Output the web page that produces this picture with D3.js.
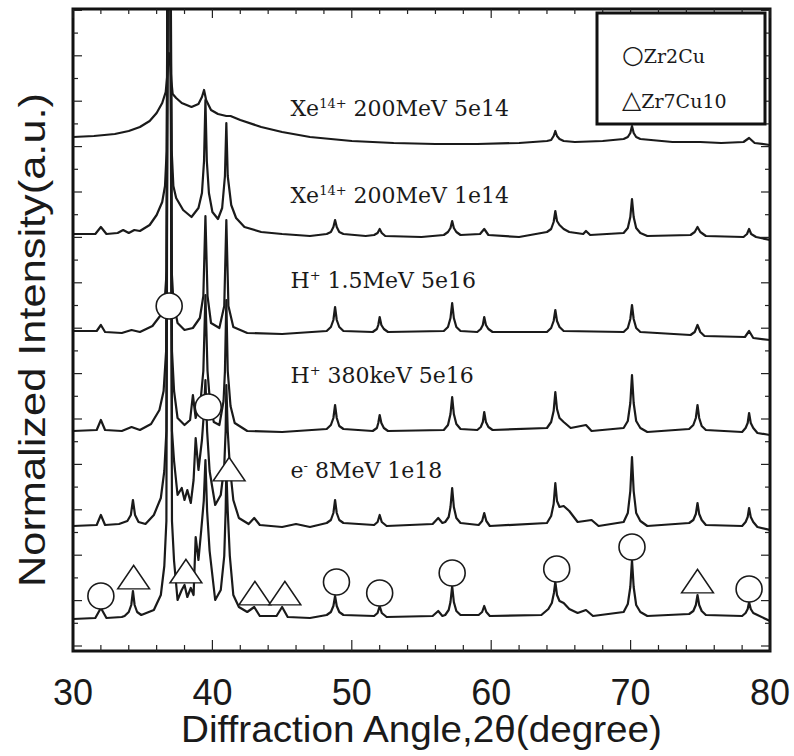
<!DOCTYPE html>
<html><head><meta charset="utf-8">
<script src="https://cdn.jsdelivr.net/npm/d3@7"></script>
<style>body{margin:0;background:#fff}</style>
</head><body>
<svg id="c" width="794" height="756"></svg>
<script>
// ---------- data (2θ in degrees, normalized intensity in a.u., traces stacked) ----------
const xTickLabels = [30, 40, 50, 60, 70, 80];

const xe5e14 = [[30,51.4],[31.5,51.5],[33,51.7],[34,52.0],[34.8,52.4],[35.5,53.0],[36,53.8],[36.4,54.8],[36.65,55.9],[36.8,58.1],[36.88,59.8],[36.95,59.4],[37.05,57.1],[37.15,55.7],[37.4,55.3],[37.8,54.8],[38.5,54.4],[39,54.7],[39.25,55.4],[39.4,56.1],[39.55,55.1],[39.9,54.1],[40.4,53.7],[41,53.5],[41.3,53.5],[42,53.1],[43.5,52.4],[45,51.9],[47,51.4],[50,51.0],[53,50.8],[56,50.7],[59,50.7],[62,50.8],[64,51.0],[64.3,51.1],[64.48,51.5],[64.6,52.0],[64.72,51.5],[64.9,51.2],[65.2,51.0],[66,50.9],[68,51.0],[69.5,51.2],[69.8,51.4],[69.98,51.8],[70.1,52.5],[70.22,51.8],[70.4,51.4],[70.7,51.2],[73,50.9],[75,50.9],[76.5,50.8],[78.1,50.9],[78.5,51.3],[78.9,50.8],[80,50.6]];

const xe1e14 = [[30,41.7],[31.6,41.7],[32,42.4],[32.4,41.7],[33.2,41.8],[33.6,42.1],[34,41.8],[34.4,42.1],[34.8,42.0],[35.5,42.6],[36,43.6],[36.4,44.9],[36.6,46.5],[36.72,50],[36.8,75],[36.98,75],[37.08,50],[37.2,46.5],[37.4,45.3],[37.9,44.1],[38.5,43.4],[39,44.3],[39.25,45.8],[39.4,49],[39.5,55.1],[39.6,49],[39.75,45.8],[40,43.9],[40.4,43.2],[40.7,44.3],[40.9,47.5],[41,52.8],[41.1,47.5],[41.35,44.6],[41.7,43.3],[42.3,42.4],[43.5,41.9],[45,41.7],[47,41.5],[48.2,41.7],[48.5,41.9],[48.68,42.4],[48.8,43.1],[48.92,42.4],[49.1,41.9],[49.4,41.7],[51,41.5],[51.6,41.6],[51.85,41.8],[52,42.2],[52.15,41.8],[52.4,41.5],[55,41.4],[56.6,41.6],[56.9,41.9],[57.08,42.3],[57.2,43.0],[57.32,42.3],[57.5,41.9],[57.8,41.6],[59.2,41.7],[59.5,42.2],[59.8,41.6],[62,41.4],[64,41.9],[64.3,42.2],[64.48,42.9],[64.6,44.0],[64.72,43.0],[64.9,42.6],[65.2,42.2],[65.6,41.9],[66.6,41.7],[66.8,42.0],[67.1,41.6],[69.5,41.8],[69.8,42.3],[69.98,43.4],[70.1,45.2],[70.22,43.4],[70.4,42.3],[70.7,41.8],[71.2,41.5],[74.3,41.6],[74.6,41.9],[74.8,42.4],[75,41.9],[75.4,41.5],[78.1,41.4],[78.35,41.7],[78.5,42.2],[78.65,41.7],[79,41.4],[80,41.1]];

const h15MeV = [[30,32.0],[31.7,32.0],[32,32.6],[32.3,31.9],[33.5,31.8],[34.2,32.1],[34.8,31.9],[35.7,32.5],[36.3,33.6],[36.6,35.5],[36.72,38],[36.8,75],[36.98,75],[37.08,38],[37.2,35],[37.5,32.8],[38,32.1],[38.6,32.3],[39.1,33.3],[39.35,35.5],[39.5,43.5],[39.65,35.5],[39.9,32.8],[40.5,32.3],[40.85,34.5],[41,43.1],[41.15,34.5],[41.5,32.4],[42.5,31.8],[45,31.7],[48.2,32.0],[48.5,32.4],[48.68,33.1],[48.8,34.4],[48.92,33.1],[49.1,32.4],[49.4,32.0],[51.5,31.9],[51.8,32.2],[51.9,32.6],[52,33.4],[52.12,32.6],[52.3,32.2],[52.6,31.9],[56.6,32.0],[56.9,32.4],[57.08,33.3],[57.2,34.8],[57.32,33.3],[57.5,32.4],[57.8,32.0],[59,31.9],[59.25,32.2],[59.4,32.6],[59.5,33.4],[59.62,32.6],[59.8,32.2],[60.1,31.9],[64,31.9],[64.3,32.3],[64.48,33.0],[64.6,34.1],[64.72,33.0],[64.9,32.4],[65.2,32.0],[69.5,31.9],[69.8,32.3],[69.98,33.2],[70.1,34.6],[70.22,33.2],[70.4,32.3],[70.7,31.9],[74.3,31.6],[74.6,31.9],[74.8,32.6],[75,31.9],[75.3,31.5],[78.2,31.4],[78.5,32.0],[78.8,31.3],[80,31.1]];

const h380keV = [[30,22.0],[31.7,22.1],[32,23.1],[32.3,22.1],[33.5,22.0],[34.2,22.4],[34.8,22.1],[35.6,22.7],[36.2,24.1],[36.5,26],[36.68,30],[36.8,75],[36.98,75],[37.1,30],[37.25,26],[37.5,23.3],[38,22.6],[38.4,23.1],[38.6,25.6],[38.8,23.3],[39.15,25],[39.35,28],[39.5,35.6],[39.65,28],[39.85,24.5],[40.1,22.9],[40.5,22.6],[40.8,25],[40.9,28],[41,35.1],[41.1,28],[41.3,24.5],[41.6,22.8],[42.5,22.0],[45,21.9],[48.2,22.2],[48.5,22.6],[48.68,23.3],[48.8,24.6],[48.92,23.3],[49.1,22.5],[49.4,22.2],[51.5,22.0],[51.8,22.3],[51.9,22.8],[52,23.6],[52.12,22.8],[52.3,22.3],[52.6,22.0],[56.6,22.1],[56.9,22.6],[57.08,23.7],[57.2,25.4],[57.32,23.7],[57.5,22.7],[57.8,22.2],[59,22.1],[59.25,22.4],[59.4,22.9],[59.5,23.9],[59.62,22.9],[59.8,22.4],[60.1,22.1],[64,22.3],[64.3,22.9],[64.48,24.0],[64.6,25.9],[64.72,24.2],[64.9,23.3],[65.2,22.9],[65.7,22.3],[66.8,22.6],[67.2,22.0],[69.5,22.3],[69.8,23.0],[69.98,24.8],[70.1,27.6],[70.22,24.8],[70.4,23.0],[70.7,22.3],[71.2,21.9],[74.2,22.2],[74.5,22.6],[74.68,23.3],[74.8,24.6],[74.92,23.3],[75.1,22.5],[75.4,22.1],[78,21.9],[78.25,22.3],[78.4,22.8],[78.5,23.8],[78.62,22.8],[78.8,22.3],[79.1,21.8],[80,21.6]];

const e8MeV = [[30,12.5],[31.7,12.6],[32,13.6],[32.3,12.6],[33.3,12.7],[33.9,13.0],[34.15,13.6],[34.3,15.1],[34.45,13.6],[34.7,12.9],[35.2,12.7],[35.8,13.6],[36.3,15.3],[36.55,18],[36.7,22],[36.8,75],[36.98,75],[37.1,22],[37.25,19],[37.5,15.6],[37.8,16.3],[38,15.1],[38.2,16.1],[38.45,14.8],[38.65,17.1],[38.8,21.3],[39,18.1],[39.25,21.1],[39.4,24],[39.5,27.1],[39.62,22],[39.8,18],[40.2,14.6],[40.6,15.6],[40.85,18.5],[40.95,22],[41,26.6],[41.1,22],[41.25,18.5],[41.5,15.1],[41.9,13.3],[42.6,12.7],[43,13.3],[43.4,12.6],[45,12.4],[46,12.7],[47,12.4],[48.2,12.8],[48.5,13.1],[48.68,13.8],[48.8,15.1],[48.92,13.8],[49.1,13.1],[49.4,12.8],[51.6,12.6],[51.85,12.9],[52,13.6],[52.15,12.9],[52.5,12.5],[55.8,12.7],[56.2,13.3],[56.5,12.8],[56.7,12.9],[56.95,13.4],[57.08,14.4],[57.2,16.3],[57.32,14.4],[57.5,13.3],[57.8,12.8],[59.1,12.6],[59.35,13.0],[59.5,13.8],[59.65,13.0],[59.9,12.5],[64,12.8],[64.3,13.5],[64.48,14.7],[64.6,16.8],[64.72,15.0],[64.9,14.4],[65.2,14.5],[65.6,14.0],[66.2,12.9],[67.2,13.1],[67.7,12.5],[69.5,12.9],[69.8,13.8],[69.98,16.0],[70.1,19.4],[70.22,16.0],[70.4,13.8],[70.7,13.0],[71.2,12.5],[74.2,12.8],[74.5,13.1],[74.68,13.7],[74.8,14.8],[74.92,13.7],[75.1,13.1],[75.4,12.6],[78,12.5],[78.25,12.9],[78.4,13.4],[78.5,14.3],[78.62,13.4],[78.8,12.9],[79.1,12.4],[80,12.1]];

const unirradiated = [[30,3.2],[31.6,3.3],[32,4.3],[32.4,3.3],[33.5,3.4],[33.7,3.5],[34.0,3.9],[34.18,4.6],[34.3,6.0],[34.42,4.6],[34.6,3.9],[34.9,3.6],[35.8,4.1],[36.3,5.6],[36.55,8.5],[36.7,13],[36.8,75],[36.98,75],[37.1,13],[37.25,9],[37.5,5.1],[37.8,6.1],[38,6.6],[38.2,5.4],[38.45,6.3],[38.65,5.6],[38.8,11.4],[39,9.1],[39.2,12.1],[39.38,15],[39.5,19.1],[39.62,14],[39.8,10],[40.2,5.1],[40.6,6.1],[40.85,9.5],[40.95,14],[41,18.1],[41.1,14],[41.25,9.5],[41.5,5.6],[41.9,4.4],[42.5,3.9],[43,4.4],[43.4,3.5],[44.6,3.5],[45,4.4],[45.4,3.4],[47,3.3],[48.2,3.6],[48.5,3.9],[48.68,4.5],[48.8,5.5],[48.92,4.5],[49.1,3.9],[49.4,3.6],[51.6,3.5],[51.85,3.8],[52,4.5],[52.15,3.8],[52.5,3.4],[55.8,3.5],[56.2,4.0],[56.5,3.5],[56.7,3.6],[56.95,4.1],[57.08,4.9],[57.2,6.5],[57.32,4.9],[57.5,4.0],[57.8,3.6],[59.1,3.6],[59.35,3.9],[59.5,4.5],[59.65,3.9],[59.9,3.5],[63.6,3.6],[64.1,4.2],[64.35,4.8],[64.5,5.8],[64.6,6.9],[64.72,5.6],[64.9,5.0],[65.2,4.8],[65.6,4.2],[66.2,3.8],[66.8,4.1],[67.3,3.5],[69.5,3.9],[69.8,4.7],[69.98,6.4],[70.1,9.1],[70.22,6.4],[70.4,4.6],[70.7,3.9],[71.2,3.5],[74.2,3.7],[74.5,4.0],[74.68,4.6],[74.8,5.6],[74.92,4.6],[75.1,4.0],[75.4,3.6],[78,3.5],[78.25,3.8],[78.4,4.2],[78.5,4.9],[78.62,4.2],[78.8,3.8],[79.1,3.6],[80,3.0]];

const seriesList = [xe5e14, xe1e14, h15MeV, h380keV, e8MeV, unirradiated];

const labelMain = ["Xe", "Xe", "H", "H", "e"];
const labelSup  = ["14+", "14+", "+", "+", "-"];
const labelRest = [" 200MeV 5e14", " 200MeV 1e14", " 1.5MeV 5e16", " 380keV 5e16", " 8MeV 1e18"];
const labelLevel = [53.5, 44.8, 36.3, 26.8, 17.3];

const zr2cuMarks   = [[32.0,5.5],[36.9,34.5],[39.7,24.4],[48.9,6.9],[52.0,5.8],[57.2,7.8],[64.7,8.2],[70.1,10.4],[78.5,6.2]];
const zr7cu10Marks = [[34.35,7.3],[38.1,7.9],[41.2,18.1],[43.05,5.7],[45.2,5.7],[74.8,6.9]];

const legendSymbols = ["\u25CB", "\u25B3"];
const legendNames = ["Zr2Cu", "Zr7Cu10"];

// ---------- drawing ----------
const svg = d3.select("#c");
const L = 73, R = 770, T = 9, B = 651;
const x = d3.scaleLinear().domain([30, 80]).range([L, R]);
const y = d3.scaleLinear().domain([0, 64.2]).range([B, T]);

svg.append("rect").attr("width", 794).attr("height", 756).attr("fill", "#fff");
svg.append("defs").append("clipPath").attr("id", "plotclip")
  .append("rect").attr("x", L).attr("y", T).attr("width", R - L).attr("height", B - T);

const line = d3.line().x(d => x(d[0])).y(d => y(d[1]));
const g = svg.append("g").attr("clip-path", "url(#plotclip)");
g.selectAll("path.trace").data(seriesList).join("path")
  .attr("class", "trace")
  .attr("d", line)
  .attr("fill", "none")
  .attr("stroke", "#1a1a1a")
  .attr("stroke-width", 2.2)
  .attr("stroke-linejoin", "round");

// markers
g.selectAll("circle.m").data(zr2cuMarks).join("circle")
  .attr("class", "m")
  .attr("cx", d => x(d[0])).attr("cy", d => y(d[1])).attr("r", 13)
  .attr("fill", "#fff").attr("stroke", "#1a1a1a").attr("stroke-width", 1.6);
const tri = d3.symbol().type(d3.symbolTriangle).size(440);
g.selectAll("path.t").data(zr7cu10Marks).join("path")
  .attr("class", "t")
  .attr("transform", d => `translate(${x(d[0])},${y(d[1]) + 3}) scale(1.0,0.85)`)
  .attr("d", tri)
  .attr("fill", "#fff").attr("stroke", "#1a1a1a").attr("stroke-width", 1.6);

// series labels
const lab = svg.append("g").attr("font-family", "'DejaVu Serif', serif").attr("font-size", 22).attr("fill", "#1a1a1a");
labelMain.forEach((m, i) => {
  const t = lab.append("text").attr("x", x(45.6)).attr("y", y(labelLevel[i]));
  t.append("tspan").text(m);
  t.append("tspan").attr("dy", -8).attr("font-size", 13).text(labelSup[i]);
  t.append("tspan").attr("dy", 8).text(labelRest[i]);
});

// frame
svg.append("rect").attr("x", L).attr("y", T).attr("width", R - L).attr("height", B - T)
  .attr("fill", "none").attr("stroke", "#111").attr("stroke-width", 3);

// x ticks (inward, bottom and top)
const xt = d3.range(30, 80.01, 2);
const tk = svg.append("g").attr("stroke", "#222").attr("stroke-width", 1.2);
xt.forEach(v => {
  const major = xTickLabels.includes(v);
  tk.append("line").attr("x1", x(v)).attr("x2", x(v)).attr("y1", B).attr("y2", B - (major ? 11 : 6));
  tk.append("line").attr("x1", x(v)).attr("x2", x(v)).attr("y1", T).attr("y2", T + (major ? 9 : 5));
});
// y ticks (inward, left and right)
const yt = d3.range(0.5, 64.2, 2.27);
yt.forEach((v, k) => {
  const len = k % 2 === 0 ? 9 : 5;
  tk.append("line").attr("x1", L).attr("x2", L + len).attr("y1", y(v)).attr("y2", y(v));
  tk.append("line").attr("x1", R).attr("x2", R - len).attr("y1", y(v)).attr("y2", y(v));
});

// x tick labels
svg.append("g").selectAll("text").data(xTickLabels).join("text")
  .attr("x", d => x(d)).attr("y", 705)
  .attr("text-anchor", "middle")
  .attr("font-family", "'Liberation Sans', Arial, sans-serif")
  .attr("font-size", 36).attr("fill", "#1a1a1a")
  .text(d => d);

// axis titles
svg.append("text").attr("x", 421.5).attr("y", 742)
  .attr("text-anchor", "middle")
  .attr("textLength", 481).attr("lengthAdjust", "spacingAndGlyphs")
  .attr("font-family", "'Liberation Sans', Arial, sans-serif")
  .attr("font-size", 36).attr("fill", "#1a1a1a")
  .text("Diffraction Angle,2\u03B8(degree)");
svg.append("text").attr("transform", "translate(45,340) rotate(-90)")
  .attr("text-anchor", "middle")
  .attr("textLength", 494).attr("lengthAdjust", "spacingAndGlyphs")
  .attr("font-family", "'Liberation Sans', Arial, sans-serif")
  .attr("font-size", 37).attr("fill", "#1a1a1a")
  .text("Normalized Intensity(a.u.)");

// legend
svg.append("rect").attr("x", 597).attr("y", 13).attr("width", 168).attr("height", 111)
  .attr("fill", "#fff").attr("stroke", "#111").attr("stroke-width", 3);
const lg = svg.append("g").attr("font-family", "'DejaVu Serif', serif").attr("fill", "#1a1a1a");
legendNames.forEach((n, i) => {
  const t = lg.append("text").attr("x", 622).attr("y", 63 + i * 45);
  t.append("tspan").attr("font-size", 25).attr("font-family", "'DejaVu Sans', sans-serif").text(legendSymbols[i]);
  t.append("tspan").attr("font-size", 19).text(n);
});
</script>
</body></html>
